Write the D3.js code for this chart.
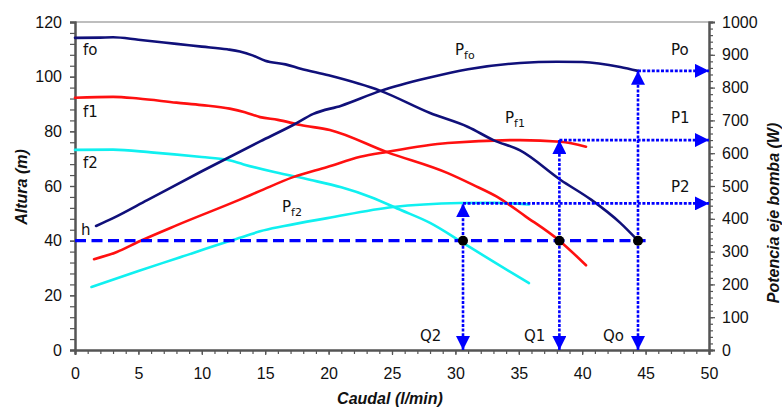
<!DOCTYPE html>
<html>
<head>
<meta charset="utf-8">
<script src="https://cdn.jsdelivr.net/npm/d3@7"></script>
<style>
  html, body { margin: 0; padding: 0; background: #fff; }
  svg { display: block; }
  .tick text { font-family: "Liberation Sans", Arial, sans-serif; font-size: 16px; fill: #111; }
  .ann { font-family: "DejaVu Sans", Verdana, sans-serif; font-size: 15px; fill: #111; }
  .title { font-family: "Liberation Sans", Arial, sans-serif; font-size: 16px; font-weight: bold; font-style: italic; fill: #111; }
</style>
</head>
<body>
<svg id="chart" width="782" height="410"></svg>
<script>
// Pump head curves H(Q) for three speeds (m)
const foQ = [0, 2, 3, 5, 8, 10, 12, 13, 14, 15, 16.6, 17.8, 20, 24.1, 28, 31, 33, 35.1, 38.3, 40.7, 43, 44.4];
const foH = [114.2, 114.3, 114.4, 113.5, 112, 111, 110, 109.2, 107.8, 105.8, 104.5, 102.9, 100.5, 94.8, 86.7, 81.6, 76.8, 73, 62.2, 55, 46.5, 40];

const f1Q = [0, 3, 5, 8, 10, 12.2, 13.4, 14.6, 16, 17.8, 20.1, 24.6, 29.4, 31.4, 33.3, 35.5, 38.2, 40.3];
const f1H = [92.3, 92.6, 92, 90.5, 89.6, 88.3, 87, 85.2, 84.2, 82.3, 80.5, 72.4, 64.7, 60.4, 56, 49, 40, 31];

const f2Q = [0, 3, 6, 10, 12, 13.3, 15.8, 18.6, 21, 23.3, 25.7, 28, 30.6, 33, 35.8];
const f2H = [73.2, 73.3, 72.3, 70.6, 69.6, 67.9, 65, 62.2, 59.5, 56, 51.2, 46.5, 39.2, 32.3, 24.5];

// Shaft power curves P(Q) for the same speeds (W)
const pfoQ = [1.66, 3, 5.7, 10, 14.6, 17.2, 18.8, 21, 24.1, 27.8, 31, 35.1, 38, 40, 43, 44.4];
const pfoW = [378, 402, 457, 545, 636, 686, 720, 745, 790, 829, 856, 875, 879, 878, 863, 851];

const pf1Q = [1.5, 3.3, 5, 8, 12.9, 14.6, 17.2, 19.9, 22.5, 24.6, 29.4, 35.1, 38.3, 40.3];
const pf1W = [277, 299, 330, 380, 457, 485, 527, 558, 589, 604, 631, 640, 635, 620];

const pf2Q = [1.3, 5, 8, 12, 13.5, 14.6, 16.5, 19.9, 25.1, 30.4, 33, 35.8];
const pf2W = [192, 241, 279, 330, 348, 362, 378, 402, 436, 448, 449, 444];

// System head and operating points
const headH = 40;
const opQ = [30.6, 38.2, 44.4];
const opP = [447, 640, 851];
const opLabels = ["Q2", "Q1", "Qo"];
const powLabels = ["P2", "P1", "Po"];

const xTicks = [0, 5, 10, 15, 20, 25, 30, 35, 40, 45, 50];
const hTicks = [0, 20, 40, 60, 80, 100, 120];
const pTicks = [0, 100, 200, 300, 400, 500, 600, 700, 800, 900, 1000];

const svg = d3.select("#chart");
const L = 75, R = 709, T = 22, B = 350;

const x = d3.scaleLinear().domain([0, 50]).range([L, R]);
const yH = d3.scaleLinear().domain([0, 120]).range([B, T]);
const yP = d3.scaleLinear().domain([0, 1000]).range([B, T]);

const navy = "#10107a", red = "#ff1010", cyan = "#10f0f0", blue = "#0000ff";

// top border of the plot area
svg.append("line").attr("x1", L).attr("x2", R).attr("y1", T).attr("y2", T)
  .attr("stroke", "#a8a8a8").attr("stroke-width", 1.5);

// axes: minor ticks first, then major ticks with labels
function styleAxis(g) {
  g.select(".domain").attr("stroke", "#555").attr("stroke-width", 2);
  g.selectAll(".tick line").attr("stroke", "#555").attr("stroke-width", 1.2);
}
const gxMinor = svg.append("g").attr("transform", `translate(0,${B})`)
  .call(d3.axisBottom(x).tickValues(d3.range(0, 51, 1)).tickSize(4).tickFormat(""));
styleAxis(gxMinor);
const gx = svg.append("g").attr("transform", `translate(0,${B})`)
  .call(d3.axisBottom(x).tickValues(xTicks).tickSize(5).tickPadding(13).tickFormat(d3.format("d")));
styleAxis(gx);

const gyMinor = svg.append("g").attr("transform", `translate(${L},0)`)
  .call(d3.axisLeft(yH).tickValues(d3.range(0, 121, 4)).tickSize(5).tickFormat(""));
styleAxis(gyMinor);
const gy = svg.append("g").attr("transform", `translate(${L},0)`)
  .call(d3.axisLeft(yH).tickValues(hTicks).tickSize(5).tickPadding(8).tickFormat(d3.format("d")));
styleAxis(gy);

const gpMinor = svg.append("g").attr("transform", `translate(${R},0)`)
  .call(d3.axisRight(yP).tickValues(d3.range(0, 1001, 20)).tickSize(4).tickFormat(""));
styleAxis(gpMinor);
const gp = svg.append("g").attr("transform", `translate(${R},0)`)
  .call(d3.axisRight(yP).tickValues(pTicks).tickSize(6).tickPadding(7).tickFormat(d3.format("d")));
styleAxis(gp);

// axis titles
svg.append("text").attr("class", "title").attr("text-anchor", "middle")
  .attr("transform", "translate(27,187) rotate(-90)").text("Altura (m)");
svg.append("text").attr("class", "title").attr("text-anchor", "middle")
  .attr("transform", "translate(779,213) rotate(-90)").text("Potencia eje bomba (W)");
svg.append("text").attr("class", "title").attr("text-anchor", "middle")
  .attr("x", 390).attr("y", 404).text("Caudal (l/min)");

// curves
const line = d3.line().curve(d3.curveMonotoneX);
function curve(qs, vs, scale, color) {
  svg.append("path")
    .attr("d", line(qs.map((q, i) => [x(q), scale(vs[i])])))
    .attr("fill", "none").attr("stroke", color).attr("stroke-width", 2.6)
    .attr("stroke-linejoin", "round").attr("stroke-linecap", "round");
}
curve(pf2Q, pf2W, yP, cyan);
curve(f2Q, f2H, yH, cyan);
curve(pf1Q, pf1W, yP, red);
curve(f1Q, f1H, yH, red);
curve(pfoQ, pfoW, yP, navy);
curve(foQ, foH, yH, navy);

// arrowhead marker
const defs = svg.append("defs");
defs.append("marker").attr("id", "arrow")
  .attr("viewBox", "0 0 14 14").attr("refX", 14).attr("refY", 7)
  .attr("markerWidth", 14).attr("markerHeight", 14)
  .attr("markerUnits", "userSpaceOnUse").attr("orient", "auto-start-reverse")
  .append("path").attr("d", "M0,0 L14,7 L0,14 Z").attr("fill", blue);

// system head line
svg.append("line")
  .attr("x1", x(0)).attr("x2", x(45)).attr("y1", yH(headH)).attr("y2", yH(headH))
  .attr("stroke", blue).attr("stroke-width", 3.2).attr("stroke-dasharray", "11,5.5");

// projections of the operating points
opQ.forEach((q, i) => {
  svg.append("line")
    .attr("x1", x(q)).attr("x2", x(q)).attr("y1", yP(0)).attr("y2", yP(opP[i]))
    .attr("stroke", blue).attr("stroke-width", 2.6).attr("stroke-dasharray", "3,1.6")
    .attr("marker-start", "url(#arrow)").attr("marker-end", "url(#arrow)");
  svg.append("line")
    .attr("x1", x(q)).attr("x2", x(50)).attr("y1", yP(opP[i])).attr("y2", yP(opP[i]))
    .attr("stroke", blue).attr("stroke-width", 2.6).attr("stroke-dasharray", "3,1.6")
    .attr("marker-end", "url(#arrow)");
});

svg.selectAll("circle.op").data(opQ).join("circle").attr("class", "op")
  .attr("cx", d => x(d)).attr("cy", yH(headH)).attr("r", 5).attr("fill", "#000");

// annotations
function ann(txt, px, py) {
  svg.append("text").attr("class", "ann").attr("x", px).attr("y", py).text(txt);
}
ann("fo", 83, 55);
ann("f1", 83, 117);
ann("f2", 83, 168);
ann("h", 81, 235);
opLabels.forEach((t, i) => ann(t, [420, 524, 603][i], 341));
powLabels.forEach((t, i) => ann(t, 671, [192, 123, 55][i]));

function pann(sub, px, py) {
  const t = svg.append("text").attr("class", "ann").attr("x", px).attr("y", py);
  t.append("tspan").text("P");
  t.append("tspan").attr("font-size", "11px").attr("dy", 4).text(sub);
}
pann("fo", 455, 55);
pann("f1", 505, 123);
pann("f2", 282, 212);
</script>
</body>
</html>
